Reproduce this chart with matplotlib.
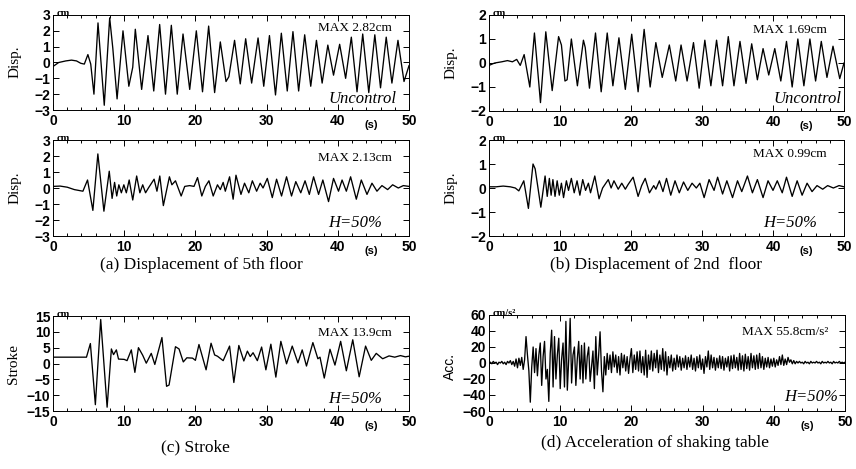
import numpy as np
import matplotlib
matplotlib.use("Agg")
import matplotlib.pyplot as plt
from matplotlib.ticker import MultipleLocator

# ---- data (peaks / troughs, time in s) ----
# (a) 5th floor, uncontrolled, cm
d5u_t = [0.0, 0.8, 1.8, 2.6, 3.3, 3.9, 4.4, 4.9, 5.3, 5.75, 6.32, 7.2, 7.96, 8.4, 9.0, 9.83,
         10.65, 11.2, 11.56, 12.45, 13.34, 14.15, 14.98, 15.8, 16.62, 17.45, 18.26, 19.2,
         20.13, 21.0, 21.86, 22.7, 23.5, 24.3, 24.7, 25.5, 26.3, 27.06, 27.9, 28.8, 29.6,
         30.4, 31.25, 32.07, 32.9, 33.7, 34.5, 35.35, 36.2, 37.0, 37.8, 38.6, 39.4, 40.26,
         41.1, 41.9, 42.7, 43.5, 44.35, 45.2, 46.0, 46.8, 47.6, 48.45, 49.3, 50.0]
d5u = [-0.25, 0.0, 0.1, 0.15, 0.1, -0.05, -0.1, 0.5, -0.1, -2.0, 2.5, -2.7, 2.82, 0.9, -2.3, 2.0,
       -1.5, -0.3, 2.1, -1.7, 1.7, -1.8, 2.4, -2.0, 2.35, -2.0, 1.8, -1.7,
       2.0, -1.85, 2.3, -1.9, 1.3, -1.2, -0.9, 1.4, -1.35, 1.5, -1.3, 1.55, -1.5,
       1.7, -2.05, 1.85, -1.8, 1.95, -1.8, 1.75, -1.5, 1.4, -1.3, 1.1, -0.8, 1.15,
       -1.0, 1.6, -1.85, 1.8, -1.9, 1.75, -1.6, 1.6, -1.3, 1.4, -1.2, -0.2]

# (a) 5th floor, H=50%
d5c_t = [0.0, 1.0, 2.0, 3.0, 3.6, 4.2, 4.85, 5.6, 6.3, 7.15, 7.9, 8.3, 8.65, 8.95, 9.25, 9.6,
         9.95, 10.3, 10.7, 11.2, 11.75, 12.2, 12.6, 13.0, 13.4, 14.2, 14.6, 15.0, 15.5,
         16.35, 16.7, 17.2, 18.0, 18.5, 19.2, 19.8, 20.3, 20.9, 21.4, 21.9, 22.5, 23.1,
         23.5, 23.9, 24.2, 24.8, 25.3, 25.7, 26.4, 26.9, 27.5, 28.0, 28.6, 29.1, 29.5,
         30.1, 30.8, 31.4, 32.1, 32.8, 33.5, 34.1, 34.8, 35.4, 36.0, 36.6, 37.3, 37.9,
         38.7, 39.4, 40.1, 40.6, 41.2, 41.8, 42.6, 43.3, 44.1, 44.8, 45.5, 46.2, 47.0,
         47.7, 48.5, 49.2, 50.0]
d5c = [0.1, 0.12, 0.05, -0.1, -0.15, -0.2, 0.5, -1.4, 2.13, -1.45, 1.05, -0.65, 0.35, -0.5, 0.2, -0.3,
       0.2, -0.3, 0.5, -0.75, 0.75, -0.3, 0.2, -0.3, 0.0, 0.55, -0.2, 0.75, -1.1,
       0.7, 0.2, 0.45, -0.5, 0.1, 0.15, 0.1, 0.65, -0.5, 0.1, 0.45, -0.5, 0.2,
       -0.1, 0.35, -0.2, 0.7, -0.7, 0.8, -0.4, 0.3, -0.3, 0.45, -0.2, 0.3, 0.0,
       0.6, -0.6, 0.55, -0.5, 0.7, -0.5, 0.4, -0.3, 0.45, -0.4, 0.7, -0.4, 0.5,
       -0.85, 0.6, -0.2, 0.5, -0.2, 0.7, -0.7, 0.5, -0.4, 0.3, -0.2, 0.15, -0.1,
       0.2, 0.0, 0.15, 0.1]

# (b) 2nd floor, uncontrolled
d2u_t = [0.0, 0.8, 1.8, 2.6, 3.3, 3.9, 4.4, 4.95, 5.75, 6.4, 7.25, 8.0, 8.9, 9.8, 10.2, 10.7,
         11.0, 11.6, 12.45, 13.3, 13.55, 14.15, 15.0, 15.8, 16.65, 17.45, 18.3, 19.2, 20.1,
         21.0, 21.85, 22.7, 23.5, 24.4, 25.4, 26.3, 27.05, 27.9, 28.8, 29.6, 30.4, 31.25,
         32.05, 32.9, 33.7, 34.5, 35.35, 36.2, 37.0, 37.8, 38.6, 39.4, 40.25, 41.1, 41.9,
         42.7, 43.5, 44.35, 45.2, 46.0, 46.8, 47.6, 48.45, 49.4, 50.0]
d2u = [-0.1, 0.0, 0.05, 0.1, 0.05, 0.15, -0.1, 0.35, -1.0, 1.25, -1.65, 1.3, -1.15, 1.1, 0.75, -0.75,
       -0.7, 1.0, -0.95, 0.95, 0.65, -1.05, 1.25, -1.2, 1.25, -0.95, 1.05, -1.1, 1.2,
       -1.2, 1.4, -1.0, 0.85, -0.6, 0.75, -0.75, 0.75, -0.75, 0.85, -1.05, 0.95, -0.95,
       0.95, -0.95, 1.1, -0.95, 0.9, -0.85, 0.8, -0.7, 0.6, -0.5, 0.6, -0.75, 0.9,
       -1.0, 1.0, -0.95, 1.0, -0.75, 0.9, -0.6, 0.7, -0.65, 0.0]

# (b) 2nd floor, H=50%
d2c_t = [0.0, 1.0, 2.0, 3.0, 3.7, 4.2, 4.9, 5.55, 6.2, 6.5, 7.3, 7.9, 8.2, 8.5, 8.75, 9.0, 9.3,
         9.6, 9.9, 10.2, 10.5, 10.9, 11.2, 11.6, 12.0, 12.4, 12.8, 13.2, 13.6, 14.0, 14.3,
         14.9, 15.5, 16.0, 16.8, 17.2, 17.6, 18.2, 18.7, 19.2, 19.6, 20.3, 21.0, 21.5,
         22.0, 22.6, 23.2, 23.5, 24.0, 24.5, 25.0, 25.6, 26.2, 26.8, 27.4, 28.0, 28.6,
         29.2, 29.7, 30.3, 31.0, 31.7, 32.2, 32.9, 33.5, 34.3, 35.0, 35.6, 36.4, 37.1,
         37.8, 38.6, 39.3, 40.0, 40.6, 41.3, 41.9, 42.7, 43.4, 44.1, 44.8, 45.5, 46.2,
         47.0, 47.7, 48.5, 49.3, 50.0]
d2c = [0.05, 0.05, 0.08, 0.05, 0.0, -0.12, 0.3, -0.85, 1.0, 0.8, -0.8, 0.5, -0.35, 0.4, -0.3, 0.35, -0.35,
       0.3, -0.3, 0.2, -0.4, 0.3, -0.1, 0.4, -0.2, 0.3, -0.3, 0.35, -0.1, 0.2, -0.2,
       0.5, -0.45, 0.0, 0.35, 0.0, 0.3, -0.05, 0.2, -0.05, 0.15, 0.45, -0.35, 0.1,
       0.4, -0.2, 0.1, -0.05, 0.3, -0.15, 0.4, -0.3, 0.3, -0.2, 0.25, -0.1, 0.2,
       0.0, 0.2, -0.4, 0.35, -0.1, 0.45, -0.25, 0.3, -0.4, 0.3, -0.15, 0.5, -0.2,
       0.35, -0.4, 0.3, -0.1, 0.3, -0.2, 0.45, -0.35, 0.3, -0.3, 0.2, -0.15, 0.1,
       -0.05, 0.1, 0.0, 0.1, 0.05]

# (c) damper stroke, cm
st_t = [0.0, 4.7, 5.25, 5.95, 6.7, 7.6, 8.2, 8.5, 8.9, 9.2, 10.0, 10.4, 11.0, 11.5, 12.0, 12.6,
        13.1, 13.8, 14.3, 15.3, 15.95, 16.3, 17.2, 17.7, 18.3, 18.8, 19.6, 20.0, 20.5, 21.5,
        22.2, 22.7, 23.1, 23.9, 24.8, 25.4, 26.1, 26.8, 27.3, 27.7, 28.1, 28.7, 29.3, 29.9,
        30.6, 31.3, 32.0, 32.8, 33.6, 34.4, 35.0, 35.6, 36.5, 37.2, 37.5, 38.1, 38.9, 39.6,
        40.4, 41.2, 42.1, 43.0, 43.9, 44.7, 45.4, 46.3, 47.2, 48.0, 48.8, 49.5, 50.0]
st = [2.0, 2.0, 6.3, -13.0, 13.9, -13.8, 4.6, 2.8, 4.3, 1.4, 1.3, 0.9, 4.3, -2.8, 5.0, 2.6,
      0.1, 3.2, -0.3, 8.2, -7.2, -6.8, 5.3, 4.6, 0.5, 1.8, 1.7, 1.0, 6.0, -2.0,
      6.4, 2.7, 2.3, 0.9, 5.5, -6.0, 5.7, 0.8, 3.9, 2.2, 3.4, 0.9, 5.2, -2.0,
      6.1, -4.3, 7.0, -0.1, 5.5, 0.2, 4.3, -0.8, 6.6, 1.5, 2.0, -4.6, 4.5, -0.5,
      7.0, -2.3, 7.5, -4.2, 5.5, 1.0, 3.2, 1.5, 2.4, 2.0, 2.5, 2.1, 2.3]

# (d) shaking table acceleration, cm/s2, one reading every 0.2 s
acc_dt = 0.2
acc = [0, 1, -1, 2, 0, 1, -2, 1, 0, 2,
       -1, 1, -2, 2, 0, 3, -2, 2, -4, 5,
       -6, 6, -3, 7, -8, 4, 33, 10, -10, -49,
       -5, 20, -12, 18, -16, 10, 25, -28, 8, 27,
       -20, -8, -48, 12, 41, -30, 33, -20, 10, 31,
       -32, 5, 25, -30, 52, -34, 5, 55.8, -25, 10,
       20, -28, 5, 27, -20, 22, -25, 25, -20, 8,
       20, -23, -5, 15, -32, 33, -15, 10, 39, -10,
       -36, 8, -15, 12, -8, 10, -12, 14, -5, 10,
       -12, 8, -15, 12, -6, 10, -10, 8, -13, 5,
       18, -12, 10, -8, 14, -10, 15, -12, 8, -15,
       16, -18, 10, -8, 15, -10, 12, -6, 16, -12,
       10, -8, 18, -10, 14, -15, 8, -6, 10, -10,
       6, -8, 10, -5, 8, -9, 6, -6, 9, -8,
       7, -5, 10, -8, 6, -10, 8, -6, 10, -8,
       5, -13, 8, -5, 15, -8, 10, -6, 7, -9,
       6, -6, 9, -7, 8, -9, 6, -5, 8, -10,
       9, -7, 10, -6, 7, -9, 12, -8, 9, -10,
       11, -7, 8, -9, 12, -6, 9, -8, 10, -7,
       12, -6, 8, -8, 6, -5, 7, -6, 5, -4,
       6, -5, 4, -3, 8, -2, 10, -3, 5, -2,
       7, 1, 4, -1, 3, -1, 2, 0, 2, 0,
       1, -1, 2, 0, 1, -1, 2, 0, 1, 0,
       2, 0, 1, -1, 2, 0, 1, 0, 2, 0,
       1, -1, 2, 0, 1, 0, 2, 0, 1, 0,
       1]
acc_t = np.arange(len(acc)) * acc_dt

W, H = 856, 469
SANS = "Liberation Sans"
SERIF = "Liberation Serif"
fig = plt.figure(figsize=(W / 100, H / 100), dpi=100)


def panel(box, t, v, lim, step, unit, maxtxt, maxy, tag, tagx, tagy):
    l, tp, r, b = box
    ax = fig.add_axes([l / W, 1 - b / H, (r - l) / W, (b - tp) / H])
    ax.plot(t, v, color="black", lw=0.95, solid_joinstyle="round")
    ax.set_xlim(0, 50)
    ax.set_ylim(-lim, lim)
    ax.xaxis.set_major_locator(MultipleLocator(10))
    ax.xaxis.set_minor_locator(MultipleLocator(2))
    ax.yaxis.set_major_locator(MultipleLocator(step))
    ax.tick_params(which="both", direction="in", top=True, right=True, width=0.7)
    ax.tick_params(which="major", length=4, labelsize=10)
    ax.tick_params(which="minor", length=2)
    ax.tick_params(axis="y", pad=2)
    ax.tick_params(axis="x", pad=3)
    for lab in ax.get_xticklabels() + ax.get_yticklabels():
        lab.set_fontweight("bold")
        lab.set_family(SANS)
    for s in ax.spines.values():
        s.set_linewidth(0.7)
    ax.text(0.01, 0.97, unit, transform=ax.transAxes, fontsize=7.5, fontweight="bold",
            family=SERIF, va="bottom", ha="left")
    ax.text(0.895, -0.16, "(s)", transform=ax.transAxes, fontsize=8, fontweight="bold",
            family=SANS, ha="center", va="center")
    ax.text(0.952, maxy, maxtxt, transform=ax.transAxes, fontsize=9.5, family=SERIF,
            ha="right", va="center")
    ax.text(tagx, tagy, tag, transform=ax.transAxes, fontsize=12, family=SERIF,
            style="italic", ha="right", va="center")
    return ax


panel((53, 15, 409, 110), d5u_t, d5u, 3, 1, "cm", "MAX 2.82cm", 0.86, "Uncontrol", 0.966, 0.12)
panel((53, 140, 409, 236), d5c_t, d5c, 3, 1, "cm", "MAX 2.13cm", 0.81, "H=50%", 0.924, 0.135)
panel((489, 15, 844, 111), d2u_t, d2u, 2, 1, "cm", "MAX 1.69cm", 0.84, "Uncontrol", 0.994, 0.12)
panel((489, 140, 844, 236), d2c_t, d2c, 2, 1, "cm", "MAX 0.99cm", 0.85, "H=50%", 0.924, 0.135)
panel((53, 316, 409, 411), st_t, st, 15, 5, "cm", "MAX 13.9cm", 0.82, "H=50%", 0.924, 0.126)
panel((489, 315, 845, 411), acc_t, acc, 60, 20, "cm/s²", "MAX 55.8cm/s²", 0.82,
      "H=50%", 0.98, 0.146)

# y labels
for x, y, txt, fam in [(15, 62, "Disp.", SERIF), (15, 188, "Disp.", SERIF),
                       (451, 63, "Disp.", SERIF), (451, 188, "Disp.", SERIF),
                       (13, 364, "Stroke", SERIF), (450, 366, "Acc.", SANS)]:
    fig.text(x / W, 1 - y / H, txt, rotation=90, fontsize=11 if fam == SERIF else 10,
             family=fam, ha="center", va="center")

# sub captions
for x, y, txt in [(201, 265, "(a) Displacement of 5th floor"),
                  (656, 265, "(b) Displacement of 2nd  floor"),
                  (195, 447, "(c) Stroke"),
                  (655, 443, "(d) Acceleration of shaking table")]:
    fig.text(x / W, 1 - y / H, txt, fontsize=12.5, family=SERIF, ha="center", va="center")

fig.savefig("out.png", dpi=100)
